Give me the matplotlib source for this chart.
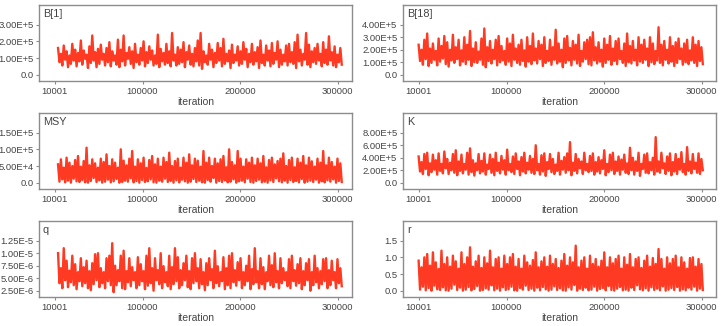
import numpy as np
import matplotlib
matplotlib.use("Agg")
import matplotlib.pyplot as plt

plt.rcParams['font.family'] = ['Liberation Sans', 'DejaVu Sans']

# trace peaks / troughs (scaled units, see scale below)
b1_hi = [160,125,175,140,115,185,150,130,205,145,120,170,235,135,155,180,125,160,195,140,
         115,210,150,235,130,165,140,185,120,160,200,135,170,145,115,240,155,130,185,140,
         250,120,165,150,195,135,175,125,160,205,250,140,115,185,150,130,190,160,215,125,
         145,180,120,170,140,195,155,125,185,135,165,205,120,175,145,190,130,200,150,120,
         175,185,135,195,240,150,125,250,180,140,160,185,125,195,150,230,135,170,120,160]
b1_lo = [75,55,90,45,65,85,50,80,60,95,40,70,85,45,65,90,55,75,50,85,
         60,45,80,55,95,65,40,75,60,85,50,70,90,55,65,45,80,60,70,50,
         85,55,65,75,45,90,60,50,80,55,35,75,60,90,45,70,85,50,65,80,
         40,70,85,55,65,90,45,75,60,80,40,70,55,85,50,65,90,45,60,80,
         55,75,65,40,80,55,90,60,45,75,65,85,50,70,60,85,55,45,75,60]

b18_hi = [240,200,280,330,210,250,190,290,230,310,260,200,320,220,280,195,300,240,350,210,
          260,185,290,370,220,270,200,280,310,230,190,290,250,320,210,240,280,195,300,230,
          330,210,270,240,300,190,280,220,360,250,200,290,310,215,270,240,320,190,260,280,
          300,340,220,260,200,290,240,310,210,270,290,190,250,330,230,270,200,300,240,280,
          210,300,250,190,380,240,270,200,300,230,260,290,210,250,280,195,300,240,270,220]
b18_lo = [110,80,125,70,95,120,75,105,130,85,65,115,95,125,75,105,85,120,70,100,
          95,120,80,60,110,90,125,75,100,115,80,105,70,120,95,80,110,65,105,85,
          115,90,125,70,95,110,80,120,90,105,60,95,115,75,120,90,70,105,125,85,
          75,115,90,105,65,95,120,80,110,85,125,95,70,100,90,115,75,105,95,120,
          70,100,85,115,95,75,120,90,105,70,95,125,80,100,85,115,95,70,110,85]

msy_hi = [55,70,45,75,60,50,68,80,48,65,105,52,70,58,45,72,62,85,50,70,
          60,45,100,66,52,72,95,48,70,58,75,44,68,80,55,72,48,75,62,90,
          50,65,72,45,75,60,85,52,72,66,48,95,60,75,50,72,58,70,80,46,
          100,62,52,95,72,48,70,60,75,52,72,58,80,46,68,75,55,65,72,88,
          50,68,75,46,72,60,80,52,75,64,48,72,60,95,52,75,62,48,72,58]
msy_lo = [3,10,1,6,0,12,4,2,8,1,0,5,14,2,7,0,3,9,1,4,
          11,0,2,6,3,13,1,5,0,8,2,4,10,1,0,6,3,12,2,5,
          0,7,1,9,4,0,3,11,2,6,1,0,8,3,14,0,5,2,7,1,
          3,10,0,4,6,1,12,2,0,5,9,1,3,0,7,2,13,4,1,6,
          0,8,2,5,1,11,0,3,6,2,9,0,4,1,7,3,10,0,5,2]

k_hi = [420,330,460,480,310,450,360,470,300,500,380,320,460,520,340,450,300,480,550,360,
        310,460,350,470,290,450,380,480,320,430,360,530,300,420,470,340,410,480,320,430,
        380,600,300,440,470,330,460,380,290,480,350,410,470,650,320,460,380,340,480,300,
        430,470,330,410,360,520,300,450,480,340,420,370,450,310,560,400,340,480,300,450,
        470,330,400,730,340,480,310,420,470,330,460,380,490,300,570,340,460,320,470,380]
k_lo = [180,140,220,120,170,210,130,190,150,230,140,200,160,120,190,150,210,130,170,115,
        200,150,180,130,220,160,120,190,150,210,130,200,170,140,220,120,180,150,210,160,
        140,200,130,180,110,220,170,140,190,130,210,160,200,120,190,150,230,140,200,170,
        190,130,180,150,220,120,170,200,140,190,130,210,160,140,200,130,190,110,220,160,
        150,200,130,180,160,230,140,190,120,180,140,210,170,130,190,150,220,160,140,200]

q_hi = [100,70,110,85,65,95,78,62,90,72,85,64,80,98,100,70,62,90,95,120,
        75,66,95,105,64,90,72,62,92,78,64,95,110,70,90,66,100,74,62,95,
        72,110,92,66,80,95,64,90,100,70,88,62,80,90,68,105,74,62,92,70,
        95,100,66,82,90,62,75,95,68,110,64,90,72,62,95,76,100,64,90,70,
        62,88,95,66,78,90,64,80,88,62,95,70,64,88,90,66,85,62,88,70]
q_lo = [40,30,46,32,42,36,28,44,34,40,30,26,38,46,32,40,30,44,36,22,
        36,44,30,28,42,34,46,30,36,44,28,35,40,25,46,38,30,42,34,28,
        38,44,30,36,46,32,28,40,44,30,38,26,36,46,30,40,34,44,28,36,
        30,42,35,46,30,36,44,28,38,42,30,38,28,44,36,32,42,30,40,46,
        34,30,44,35,40,28,36,46,25,36,42,30,38,44,30,36,46,30,40,34]

r_hi = [90,70,100,110,75,115,85,65,120,80,100,72,105,88,66,115,80,100,130,72,
        88,105,68,100,82,120,70,95,100,66,105,80,100,110,72,95,66,105,85,75,
        92,115,70,88,100,72,105,80,95,68,90,110,75,100,85,135,70,90,100,66,
        105,80,95,72,90,115,70,100,82,95,105,66,100,78,110,70,95,100,68,90,
        105,72,98,80,125,95,66,100,82,95,105,70,100,85,66,98,100,72,95,80]
r_lo = [3,12,1,8,0,15,4,2,10,1,0,6,18,2,9,0,3,11,1,5,
        14,0,2,7,3,16,1,6,0,10,2,4,12,1,0,8,3,15,2,6,
        0,9,1,11,4,0,3,13,2,7,1,0,10,3,17,0,6,2,9,1,
        3,12,0,5,8,1,14,2,0,6,11,1,3,0,9,2,16,4,1,7,
        0,10,2,6,1,13,0,3,8,2,11,0,4,1,9,3,12,0,6,2]

names = ["B[1]", "B[18]", "MSY", "K", "q", "r"]
scales = [1e3, 1e3, 1e3, 1e3, 1e-7, 0.01]
highs = [b1_hi, b18_hi, msy_hi, k_hi, q_hi, r_hi]
lows = [b1_lo, b18_lo, msy_lo, k_lo, q_lo, r_lo]

yticks = [[0, 1e5, 2e5, 3e5],
          [0, 1e5, 2e5, 3e5, 4e5],
          [0, 5e4, 1e5, 1.5e5],
          [0, 2e5, 4e5, 6e5, 8e5],
          [2.5e-6, 5e-6, 7.5e-6, 1e-5, 1.25e-5],
          [0, 0.5, 1.0, 1.5]]
yticklabels = [["0.0", "1.00E+5", "2.00E+5", "3.00E+5"],
               ["0.0", "1.00E+5", "2.00E+5", "3.00E+5", "4.00E+5"],
               ["0.0", "5.00E+4", "1.00E+5", "1.50E+5"],
               ["0.0", "2.00E+5", "4.00E+5", "6.00E+5", "8.00E+5"],
               ["2.50E-6", "5.00E-6", "7.50E-6", "1.00E-5", "1.25E-5"],
               ["0.0", "0.5", "1.0", "1.5"]]
ylims = [(-0.38e5, 4.18e5), (-0.5e5, 5.58e5), (-0.19e5, 2.09e5),
         (-1.0e5, 1.116e6), (1.24e-6, 1.644e-5), (-0.19, 2.09)]
xticks = [10001, 100000, 200000, 300000]
xticklabels = ["10001", "100000", "200000", "300000"]

fig = plt.figure(figsize=(7.23, 3.26), dpi=100)
lefts = [39 / 723, 403 / 723]
bottoms = [1 - 81 / 326, 1 - 189 / 326, 1 - 297 / 326]
w, h = 313 / 723, 76 / 326
spans = [(13500, 304000), (10001, 301000)]

txt = '#444444'
edge = '#8c8c8c'
for i, name in enumerate(names):
    row, col = divmod(i, 2)
    ax = fig.add_axes([lefts[col], bottoms[row], w, h])
    trace = []
    for a, b in zip(highs[i], lows[i]):
        trace += [a * scales[i], b * scales[i]]
    x = np.linspace(spans[col][0], spans[col][1], len(trace))
    ax.plot(x, trace, color='#ff3a22', lw=1.7)
    ax.set_xlim(-6000, 314500)
    ax.set_ylim(*ylims[i])
    ax.set_xticks(xticks)
    ax.set_xticklabels(xticklabels)
    ax.set_yticks(yticks[i])
    ax.set_yticklabels(yticklabels[i])
    ax.tick_params(labelsize=6.8, colors=edge, labelcolor=txt, length=2.5, width=0.8, pad=1.5)
    for s in ax.spines.values():
        s.set_color(edge)
        s.set_linewidth(1.0)
    ax.set_xlabel("iteration", fontsize=7.5, color=txt, labelpad=1)
    ax.text(0.012, 0.95, name, transform=ax.transAxes, fontsize=7.8, color=txt,
            ha='left', va='top')

fig.savefig("out.png", dpi=100)
